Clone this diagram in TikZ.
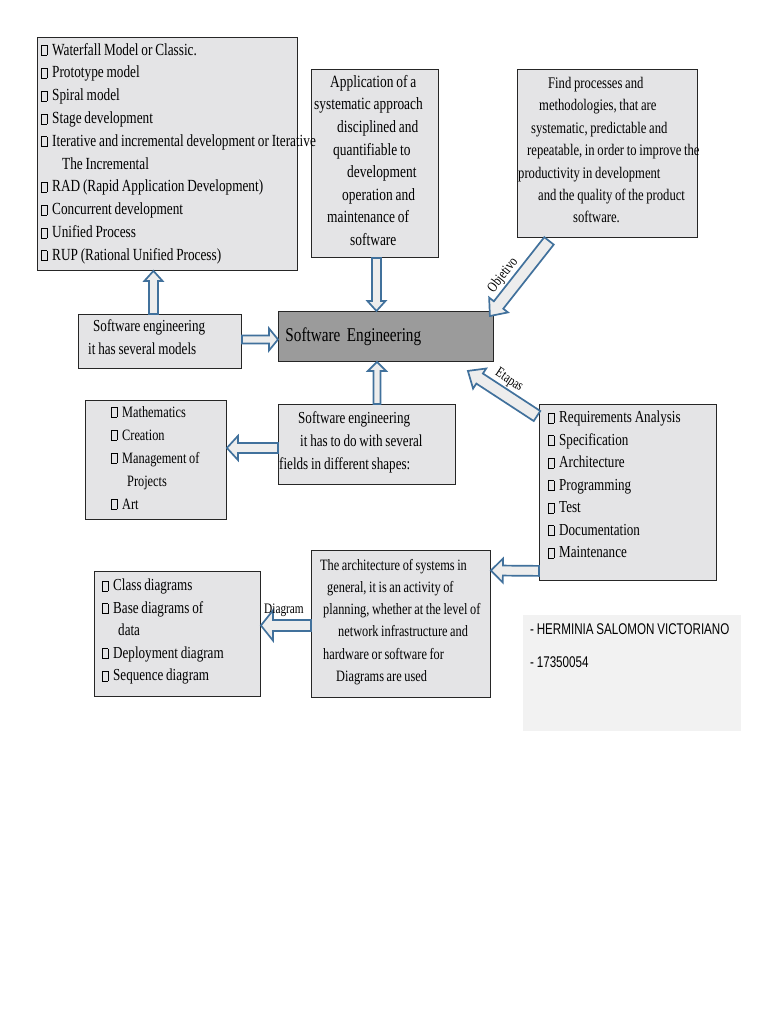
\documentclass[tikz,border=0pt]{standalone}
\usepackage{fontspec}
\setmainfont{Liberation Serif}[FakeStretch=0.78, WordSpace=0.85]
\newfontfamily\arialfont{Liberation Sans}[FakeStretch=0.75, WordSpace=0.85]
\usetikzlibrary{calc}

\definecolor{arrowblue}{RGB}{65,113,156}
\definecolor{marble}{RGB}{228,228,230}
\definecolor{granite}{RGB}{155,155,155}
\definecolor{notegray}{RGB}{242,242,242}
\newcommand{\bx}{\makebox[11pt][l]{\fboxsep=0pt\fboxrule=0.45pt\fbox{\rule{0pt}{9.5pt}\hspace{5pt}}}}

\begin{document}
\begin{tikzpicture}[x=1pt, y=-1pt,
    marblebox/.style={draw=black!85, line width=0.9pt, fill=marble, anchor=north west, inner sep=0pt},
    txt/.style={anchor=north west, inner sep=0pt, align=left, font=\fontsize{#1}{22.6}\selectfont},
    txt/.default=16.8,
    lbl/.style={inner sep=1pt, font=\fontsize{14.5}{16}\selectfont},
    blockarr/.style n args={3}{draw=arrowblue, line width=1.7pt, fill=gray!14, line join=miter,
        to path={($(\tikztostart)!#1!90:(\tikztotarget)$)
            -- ($(\tikztotarget)!#3!(\tikztostart)!#1!90:(\tikztotarget)$)
            -- ($(\tikztotarget)!#3!(\tikztostart)!#2!90:(\tikztotarget)$)
            -- (\tikztotarget)
            -- ($(\tikztotarget)!#3!(\tikztostart)!#2!-90:(\tikztotarget)$)
            -- ($(\tikztotarget)!#3!(\tikztostart)!#1!-90:(\tikztotarget)$)
            -- ($(\tikztostart)!#1!-90:(\tikztotarget)$) -- cycle}}
]
\fill[white] (0,0) rectangle (768,1024);
\useasboundingbox (0,0) rectangle (768,1024);

% boxes
\node[marblebox, minimum width=260pt, minimum height=233pt] (models) at (37,37) {};
\node[marblebox, minimum width=127pt, minimum height=188pt] (app) at (311,69) {};
\node[marblebox, minimum width=180pt, minimum height=168pt] (find) at (517,69) {};
\node[marblebox, minimum width=163pt, minimum height=54pt] (several) at (78,314) {};
\node[marblebox, fill=granite, minimum width=215pt, minimum height=50pt,
    text width=201pt, inner xsep=7pt, align=left, font=\fontsize{19.5}{22}\selectfont] (se) at (278,311) {Software Engineering};
\node[marblebox, minimum width=141pt, minimum height=119pt] (maths) at (85,400) {};
\node[marblebox, minimum width=177pt, minimum height=80pt] (fields) at (278,404) {};
\node[marblebox, minimum width=177pt, minimum height=176pt] (req) at (539,404) {};
\node[marblebox, minimum width=179pt, minimum height=147pt] (arch) at (311,550) {};
\node[marblebox, minimum width=166pt, minimum height=125pt] (classes) at (94,571) {};
\node[fill=notegray, anchor=north west, inner sep=0pt, minimum width=218pt, minimum height=116pt] (note) at (523,615) {};

% texts
\node[txt=17.2, font=\fontsize{17}{22.8}\selectfont] (modelsText) at (41,43) {\bx Waterfall Model or Classic.\\
  \bx Prototype model\\
  \bx Spiral model\\
  \bx Stage development\\
  \bx Iterative and incremental development or Iterative\\
  \hspace*{21pt}The Incremental\\
  \bx RAD (Rapid Application Development)\\
  \bx Concurrent development\\
  \bx Unified Process\\
  \bx RUP (Rational Unified Process)};
\node[txt=17.2] (appText) at (314,75) {\hspace*{16pt}Application of a\\
  systematic approach\\
  \hspace*{23pt}disciplined and\\
  \hspace*{19pt}quantifiable to\\
  \hspace*{33pt}development\\
  \hspace*{28pt}operation and\\
  \hspace*{13pt}maintenance of\\
  \hspace*{36pt}software};
\node[txt=15.8, font=\fontsize{16.2}{22.4}\selectfont] (findText) at (518,77) {\hspace*{30pt}Find processes and\\
  \hspace*{21pt}methodologies, that are\\
  \hspace*{13pt}systematic, predictable and\\
  \hspace*{9pt}repeatable, in order to improve the\\
  productivity in development\\
  \hspace*{20pt}and the quality of the product\\
  \hspace*{55pt}software.};
\node[txt, font=\fontsize{16.8}{23}\selectfont] (severalText) at (88,319) {\hspace*{5pt}Software engineering\\
  it has several models};
\node[txt, font=\fontsize{15.8}{23}\selectfont] (mathsText) at (111,406) {\bx Mathematics\\
  \bx Creation\\
  \bx Management of\\
  \hspace*{16pt}Projects\\
  \bx Art};
\node[txt, font=\fontsize{16.8}{23}\selectfont] (fieldsText) at (279,411) {\hspace*{19pt}Software engineering\\
  \hspace*{21pt}it has to do with several\\
  fields in different shapes:};
\node[txt, font=\fontsize{16.8}{22.5}\selectfont] (reqText) at (548,411) {\bx Requirements Analysis\\
  \bx Specification\\
  \bx Architecture\\
  \bx Programming\\
  \bx Test\\
  \bx Documentation\\
  \bx Maintenance};
\node[txt, font=\fontsize{15.8}{22.2}\selectfont] (archText) at (320,559) {The architecture of systems in\\
  \hspace*{7pt}general, it is an activity of\\
  \hspace*{3pt}planning, whether at the level of\\
  \hspace*{18pt}network infrastructure and\\
  \hspace*{3pt}hardware or software for\\
  \hspace*{16pt}Diagrams are used};
\node[txt, font=\fontsize{16.8}{22.5}\selectfont] (classesText) at (102,579) {\bx Class diagrams\\
  \bx Base diagrams of\\
  \hspace*{16pt}data\\
  \bx Deployment diagram\\
  \bx Sequence diagram};
\node[anchor=base west, inner sep=0pt, font=\arialfont\fontsize{15.5}{18}\selectfont] (author) at (530,634) {- HERMINIA SALOMON VICTORIANO};
\node[anchor=base west, inner sep=0pt, font=\arialfont\fontsize{15.5}{18}\selectfont] (studentId) at (530,667) {- 17350054};

% block arrows
\coordinate (objTail) at ([xshift=32pt,yshift=-3pt]find.south west);
\coordinate (objHead) at ([xshift=-4pt,yshift=-5pt]se.north east);
\coordinate (etaTail) at ([xshift=-2pt,yshift=-12pt]req.north west);
\coordinate (etaHead) at ([xshift=-26pt,yshift=-9pt]se.south east);

\draw[blockarr={4.5pt}{9pt}{10pt}] ([xshift=-6.5pt]several.north) to ([xshift=-14pt]models.south);
\draw[blockarr={4.5pt}{9pt}{10pt}] ([xshift=1.5pt]app.south) to ([xshift=-9.5pt]se.north);
\draw[blockarr={4pt}{11pt}{9pt}] ([yshift=2pt]several.east) to ([yshift=-3pt]se.west);
\draw[blockarr={6pt}{12pt}{14pt}] (objTail) to (objHead);
\draw[blockarr={3.5pt}{9pt}{9pt}] ([xshift=10pt]fields.north) to ([xshift=-9pt]se.south);
\draw[blockarr={6pt}{12pt}{14pt}] (etaTail) to (etaHead);
\draw[blockarr={5pt}{12pt}{11pt}] ([yshift=-3.5pt]fields.west) to ([yshift=12pt]maths.east);
\draw[blockarr={5pt}{12pt}{12pt}] ([yshift=10pt]req.south west) to ([yshift=53.5pt]arch.east);
\draw[blockarr={5.5pt}{15pt}{12pt}] ([yshift=-1.5pt]arch.west) to ([yshift=8.5pt]classes.east);

% arrow labels
\path (objHead) -- (objTail) node[lbl, pos=0.42, sloped, above=7pt] (objLabel) {Objetivo};
\path (etaHead) -- (etaTail) node[lbl, pos=0.48, sloped, above=7pt] (etaLabel) {Etapas};
\node[lbl, anchor=base] (diagLabel) at (284,613) {Diagram};
\end{tikzpicture}
\end{document}
